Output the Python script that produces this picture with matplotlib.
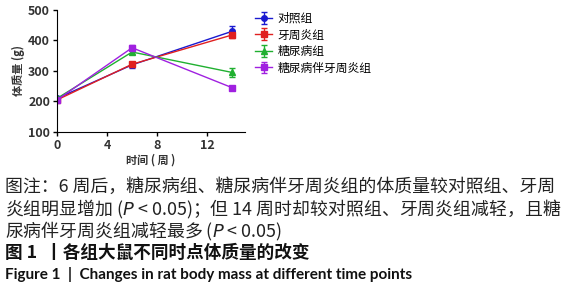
import matplotlib
matplotlib.use("Agg")
import matplotlib.pyplot as plt

plt.rcParams['font.family'] = ['Noto Sans CJK SC', 'DejaVu Sans']

weeks = [0, 6, 14]
groups = ["对照组", "牙周炎组", "糖尿病组", "糖尿病伴牙周炎组"]
control = [210, 320, 430]
perio = [205, 322, 418]
diabetes = [210, 362, 295]
diab_perio = [205, 376, 245]
control_err = [5, 10, 16]
perio_err = [5, 8, 10]
diabetes_err = [5, 8, 14]
diab_perio_err = [5, 8, 6]
colors = ["#1a1ad0", "#e02020", "#20b030", "#a020e0"]
markers = ["o", "s", "^", "s"]

fig = plt.figure(figsize=(5.64, 3.0), dpi=100)
ax = fig.add_axes([0.101, 0.56, 0.333, 0.407])

series = [control, perio, diabetes, diab_perio]
errs = [control_err, perio_err, diabetes_err, diab_perio_err]
for name, vals, e, c, m in zip(groups, series, errs, colors, markers):
    ax.errorbar(weeks, vals, yerr=e, color=c, marker=m, markersize=4,
                lw=1.0, capsize=2, elinewidth=1.0, label=name)

ax.set_xlim(0, 15)
ax.set_ylim(100, 500)
ax.set_xticks([0, 4, 8, 12])
ax.set_yticks([100, 200, 300, 400, 500])
ax.spines['top'].set_visible(False)
ax.spines['right'].set_visible(False)
ax.tick_params(labelsize=9, length=3, width=1, pad=2)
for lab in ax.get_xticklabels() + ax.get_yticklabels():
    lab.set_fontweight('bold')
    lab.set_color('#333333')
ax.set_xlabel("时间 ( 周 )", fontsize=8, fontweight='bold', color='#333333', labelpad=1)
ax.set_ylabel("体质量 (g)", fontsize=8, fontweight='bold', color='#333333', labelpad=2)

leg = ax.legend(loc='upper left', bbox_to_anchor=(1.0, 1.07), frameon=False,
                fontsize=8.5, handlelength=1.4, labelspacing=0.3, handletextpad=0.5)

cap_kw = dict(fontsize=12.9, color='#222222', ha='left', va='center')
fig.text(0.008, 1 - 187 / 300, "图注：6 周后，糖尿病组、糖尿病伴牙周炎组的体质量较对照组、牙周", **cap_kw)
fig.text(0.008, 1 - 209 / 300, "炎组明显增加 ($\\it{P}$ < 0.05)；但 14 周时却较对照组、牙周炎组减轻，且糖", **cap_kw)
fig.text(0.008, 1 - 231 / 300, "尿病伴牙周炎组减轻最多 ($\\it{P}$ < 0.05)", **cap_kw)
fig.text(0.008, 1 - 253 / 300, "图 1  丨各组大鼠不同时点体质量的改变", fontsize=12.7, color='#111111',
         ha='left', va='center', fontweight='bold')
fig.text(0.008, 1 - 274 / 300, "Figure 1  |  Changes in rat body mass at different time points",
         fontsize=11, color='#111111', ha='left', va='center', fontweight='bold',
         family=['Lato', 'DejaVu Sans'])

fig.savefig("out.png", dpi=100)
